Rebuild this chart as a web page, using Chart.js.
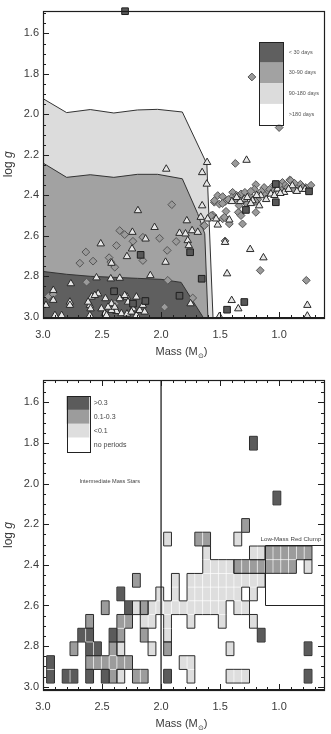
<!DOCTYPE html>
<html>
<head>
<meta charset="utf-8">
<title>Period and amplitude vs mass</title>
<script src="https://cdn.jsdelivr.net/npm/chart.js@4.4.1/dist/chart.umd.min.js"></script>
<style>
  html, body { margin: 0; padding: 0; background: #fff; }
  .panel { position: absolute; left: 0; width: 331px; height: 367px; }
  #periodPanel { top: 0; }
  #ampPanel { top: 367px; }
</style>
</head>
<body>
<div class="panel" id="periodPanel"><canvas id="periodChart"></canvas></div>
<div class="panel" id="ampPanel"><canvas id="ampChart"></canvas></div>
<script>
var FONT = '"Liberation Sans", Arial, Helvetica, sans-serif';
var INK = '#3a3a3a';

var massTicks = [3.0, 2.5, 2.0, 1.5, 1.0];
var loggTicks = [1.6, 1.8, 2.0, 2.2, 2.4, 2.6, 2.8, 3.0];

// ---- top panel: period zones (upper edge of each zone) ----
var periodLabels = ['< 30 days', '30-90 days', '90-180 days', '>180 days'];
var periodColors = ['#5f5f5f', '#a2a2a2', '#dcdcdc', '#ffffff'];

var zoneLongMass = [3.0, 2.8, 2.6, 2.4, 2.2, 2.03, 1.82, 1.612, 1.606, 1.56];
var zoneLongLogg = [1.922, 1.991, 1.976, 1.993, 1.978, 1.975, 1.988, 2.245, 2.34, 3.006];
var zoneMidMass = [3.0, 2.8, 2.6, 2.4, 2.2, 2.03, 1.82, 1.69, 1.63, 1.603];
var zoneMidLogg = [2.24, 2.311, 2.298, 2.311, 2.296, 2.296, 2.318, 2.49, 2.59, 3.006];
var zoneShortMass = [3.0, 2.8, 2.6, 2.4, 2.2, 2.0, 1.83, 1.64];
var zoneShortLogg = [2.776, 2.79, 2.8, 2.805, 2.81, 2.815, 2.83, 3.006];

// stars
var triMass = [1.956, 1.652, 1.61, 1.276, 1.613, 1.652, 1.782, 1.664, 1.844, 1.793, 1.737, 1.689, 1.774, 1.765,
  2.055, 2.131, 2.243, 2.511, 2.246, 2.289, 2.42, 1.962, 2.091, 2.196, 1.52, 1.605, 1.534, 1.422, 1.458, 1.245,
  1.133, 1.441, 1.402, 1.346, 1.506, 0.761, 0.761, 2.764, 2.547, 2.426, 1.75, 2.913, 2.975, 2.913, 2.772, 2.772,
  2.589, 2.533, 2.471, 2.603, 2.597, 2.505, 2.42, 2.35, 2.289, 2.28, 2.238, 2.378, 2.42, 2.477, 2.336, 2.289,
  2.251, 2.209, 2.181, 2.139, 2.603, 2.899, 2.842, 2.35, 2.462, 2.618, 2.561, 2.308, 2.209, 2.154, 2.392, 2.449,
  1.295, 1.225, 1.169, 1.155, 1.07, 1.014, 0.958, 0.888, 1.24, 0.82,
  1.40, 1.33, 1.27, 1.19, 1.11, 1.04, 0.99, 0.92, 0.85, 0.78, 1.36];
var triLogg = [2.27, 2.287, 2.237, 2.226, 2.344, 2.451, 2.525, 2.508, 2.587, 2.59, 2.574, 2.582, 2.623, 2.648,
  2.558, 2.615, 2.582, 2.639, 2.664, 2.702, 2.735, 2.73, 2.796, 2.475, 2.546, 2.516, 2.516, 2.521, 2.632, 2.667,
  2.708, 2.787, 2.919, 2.96, 2.998, 2.943, 2.996, 2.836, 2.807, 2.812, 2.935, 2.869, 2.943, 2.918, 2.927, 2.943,
  2.902, 2.886, 2.91, 2.943, 2.96, 2.96, 2.935, 2.91, 2.902, 2.927, 2.96, 2.973, 2.968, 2.984, 2.984, 2.986,
  2.976, 2.993, 2.968, 2.976, 2.993, 2.993, 2.993, 2.809, 2.993, 2.927, 2.894, 2.894, 2.902, 2.943, 2.952, 2.952,
  2.418, 2.426, 2.451, 2.401, 2.393, 2.368, 2.385, 2.352, 2.44, 2.37,
  2.43, 2.43, 2.41, 2.40, 2.42, 2.40, 2.39, 2.37, 2.38, 2.37, 2.41];

var diaMass = [1.231, 1.0, 1.371, 0.91, 1.909, 2.35, 2.308, 2.238, 2.154, 2.013, 2.378, 2.637, 2.576, 2.688,
  2.44, 2.392, 2.154, 1.872, 1.948, 1.943, 2.631, 1.732, 1.97, 2.955, 2.913, 1.16, 0.77, 1.639, 1.563, 1.549,
  1.45, 1.478, 1.31, 1.329, 1.197, 1.458, 2.426, 2.39,
  1.52, 1.549, 1.478, 1.506, 1.456, 1.394, 1.371, 1.323, 1.272, 1.197, 1.127, 1.042, 0.972, 0.901, 0.845, 0.775,
  1.346, 1.323, 1.464, 1.422, 1.576, 1.633, 1.10, 0.99, 1.25, 0.82, 1.18, 1.08, 0.95, 1.40, 1.29, 0.87, 1.21,
  1.48, 1.43, 1.36, 1.30, 1.24, 1.15, 1.12, 1.05, 1.00, 0.93, 0.88, 0.80, 0.73, 1.34, 1.20];
var diaLogg = [1.815, 2.065, 2.242, 2.324, 2.446, 2.574, 2.594, 2.627, 2.607, 2.612, 2.648, 2.68, 2.725, 2.735,
  2.708, 2.755, 2.722, 2.628, 2.672, 2.82, 2.829, 2.907, 2.952, 2.899, 2.889, 2.771, 2.82, 2.549, 2.497, 2.434,
  2.479, 2.516, 2.541, 2.492, 2.484, 2.625, 2.73, 2.935,
  2.401, 2.426, 2.406, 2.443, 2.43, 2.385, 2.418, 2.393, 2.443, 2.347, 2.361, 2.347, 2.336, 2.327, 2.361, 2.361,
  2.484, 2.5, 2.508, 2.541, 2.5, 2.549, 2.39, 2.37, 2.40, 2.345, 2.42, 2.37, 2.35, 2.41, 2.385, 2.34, 2.37,
  2.44, 2.42, 2.40, 2.42, 2.38, 2.38, 2.40, 2.38, 2.35, 2.36, 2.37, 2.36, 2.35, 2.45, 2.43];

var sqMass = [2.305, 2.173, 1.754, 1.656, 2.398, 2.133, 1.844, 1.441, 1.295, 0.747, 1.028, 1.281, 1.028, 2.238];
var sqLogg = [1.49, 2.694, 2.681, 2.812, 2.874, 2.922, 2.896, 2.965, 2.927, 2.38, 2.434, 2.472, 2.344, 2.935];

// ---- bottom panel: amplitude grid ----
var ampLabels = ['>0.3', '0.1-0.3', '<0.1', 'no periods'];
var ampColors = ['#5b5b5b', '#9c9c9c', '#dedede', '#ffffff'];
var ampBinMass = [2.936, 2.870, 2.804, 2.738, 2.672, 2.605, 2.539, 2.473, 2.407, 2.341, 2.275, 2.209, 2.143,
  2.077, 2.011, 1.945, 1.879, 1.813, 1.747, 1.681, 1.614, 1.548, 1.482, 1.416, 1.350, 1.284, 1.218, 1.152,
  1.085, 1.019, 0.953, 0.887, 0.821, 0.755, 0.689];
var ampBinLogg = [2.948, 2.881, 2.813, 2.746, 2.678, 2.611, 2.543, 2.476, 2.408, 2.341, 2.273, 2.206, 2.138,
  2.071, 2.003, 1.936, 1.868, 1.801];
// 3 = >0.3, 2 = 0.1-0.3, 1 = <0.1 ; rows start at log g 2.95 and go up
var ampGrid = [
  '3.33. 3.321 .22.. 3..1. ...11 1.... ...3.',
  '3.... 22222 2.... ..11. ..... ..... .....',
  '...2. 33.21 ...1. 2.... ...1. ..... ...3.',
  '....3 3..32 ..2.. 1.... ..... ..3.. .....',
  '..... 2...2 2.11. 1..1. ..1.. .1... .....',
  '..... ..2.. 31211 11111 111.1 1.... .....',
  '..... ....3 ....1 .1.11 11111 .1... .....',
  '..... ..... .2... .1.11 11111 111.. .....',
  '..... ..... ..... ..... 11112 22222 22.1.',
  '..... ..... ..... ..... 1.... .1122 2222.',
  '..... ..... ..... 1...2 2...1 ..... .....',
  '..... ..... ..... ..... ..... 2.... .....',
  '..... ..... ..... ..... ..... ..... .....',
  '..... ..... ..... ..... ..... ....3 .....',
  '..... ..... ..... ..... ..... ..... .....',
  '..... ..... ..... ..... ..... ..... .....',
  '..... ..... ..... ..... ..... ..... .....',
  '..... ..... ..... ..... ..... .3... .....'
];
var divideMass = 2.0;
var clumpMass = 1.12;
var clumpLogg = [2.3, 2.6];

var CELL_W = 0.0661, CELL_H = 0.0675;

function pts(xs, ys) {
  return xs.map(function (x, i) { return { x: x, y: ys[i] }; });
}

function makeScales(yMin, yMax, xHeight) {
  return {
    x: {
      type: 'linear', reverse: true, min: 0.62, max: 3.0,
      afterBuildTicks: function (s) { s.ticks = massTicks.map(function (v) { return { value: v }; }); },
      afterFit: function (s) { s.height = xHeight; },
      grid: { display: false, drawTicks: false },
      border: { display: false },
      ticks: { color: INK, padding: 10, maxRotation: 0, autoSkip: false,
        font: { family: FONT, size: 11 },
        callback: function (v) { return v.toFixed(1); } }
    },
    y: {
      type: 'linear', reverse: true, min: yMin, max: yMax,
      afterBuildTicks: function (s) { s.ticks = loggTicks.map(function (v) { return { value: v }; }); },
      afterFit: function (s) { s.width = 43; },
      grid: { display: false, drawTicks: false },
      border: { display: false },
      ticks: { color: INK, padding: 4, autoSkip: false,
        font: { family: FONT, size: 11 },
        callback: function (v) { return v.toFixed(1); } }
    }
  };
}

function line(ctx, x1, y1, x2, y2) {
  ctx.beginPath(); ctx.moveTo(x1, y1); ctx.lineTo(x2, y2); ctx.stroke();
}

function drawFrame(chart, sides, bottomWidth) {
  var ctx = chart.ctx, a = chart.chartArea, xs = chart.scales.x, ys = chart.scales.y;
  ctx.save();
  ctx.strokeStyle = '#1e1e1e';
  ctx.lineWidth = 1;
  for (var m = 7; m <= 30; m++) {
    var px = Math.round(xs.getPixelForValue(m / 10)) + 0.5;
    var len = (m % 5 === 0) ? 6 : 3;
    if (sides.bottom) line(ctx, px, a.bottom, px, a.bottom - len);
    if (sides.top) line(ctx, px, a.top, px, a.top + len);
  }
  for (var g = 30; g <= 60; g++) {
    var py = Math.round(ys.getPixelForValue(g / 20)) + 0.5;
    if (py < a.top || py > a.bottom) continue;
    var l2 = (g % 4 === 0) ? 6 : 3;
    if (sides.left) line(ctx, a.left, py, a.left + l2, py);
    if (sides.right) line(ctx, a.right, py, a.right - l2, py);
  }
  ctx.lineWidth = 1.2;
  ctx.strokeRect(Math.round(a.left) + 0.5, Math.round(a.top) + 0.5,
    Math.round(a.right - a.left), Math.round(a.bottom - a.top));
  ctx.lineWidth = bottomWidth;
  line(ctx, a.left, a.bottom, a.right + 1, a.bottom);
  ctx.restore();
}

function drawTitles(chart) {
  var ctx = chart.ctx, a = chart.chartArea;
  var big = '11px ' + FONT, small = '7px ' + FONT;
  ctx.save();
  ctx.fillStyle = INK;
  ctx.textBaseline = 'middle';
  ctx.textAlign = 'left';
  var t1 = 'Mass (M', t2 = '\u2299', t3 = ')';
  ctx.font = big;
  var w1 = ctx.measureText(t1).width, w3 = ctx.measureText(t3).width;
  ctx.font = small;
  var w2 = ctx.measureText(t2).width;
  var cx = (a.left + a.right) / 2 - 2, cy = a.bottom + 34;
  var x = cx - (w1 + w2 + w3) / 2;
  ctx.font = big; ctx.fillText(t1, x, cy);
  ctx.font = small; ctx.fillText(t2, x + w1, cy + 4);
  ctx.font = big; ctx.fillText(t3, x + w1 + w2, cy);

  ctx.translate(9, (a.top + a.bottom) / 2);
  ctx.rotate(-Math.PI / 2);
  var f = '12px ' + FONT, fi = 'italic 12px ' + FONT;
  ctx.font = f;
  var wl1 = ctx.measureText('log ').width;
  ctx.font = fi;
  var wl2 = ctx.measureText('g').width;
  var sx = -(wl1 + wl2) / 2;
  ctx.font = f; ctx.fillText('log ', sx, 0);
  ctx.font = fi; ctx.fillText('g', sx + wl1, 0);
  ctx.restore();
}

function drawKey(ctx, lx, ly, lw, lh, labels, colors, font, gap, color) {
  ctx.save();
  for (var i = 0; i < labels.length; i++) {
    ctx.fillStyle = colors[i];
    ctx.fillRect(lx, ly + i * lh, lw, lh);
    ctx.fillStyle = color;
    ctx.font = font;
    ctx.textBaseline = 'middle';
    ctx.textAlign = 'left';
    ctx.fillText(labels[i], lx + lw + gap, ly + (i + 0.5) * lh);
  }
  ctx.strokeStyle = '#222';
  ctx.lineWidth = 1;
  ctx.strokeRect(Math.round(lx) + 0.5, Math.round(ly) + 0.5, Math.round(lw), Math.round(lh * labels.length));
  ctx.restore();
}

var periodDecor = {
  id: 'periodDecor',
  afterDraw: function (chart) {
    var a = chart.chartArea;
    drawFrame(chart, { left: true, bottom: true }, 2);
    drawKey(chart.ctx, a.left + 216.3, a.top + 31.4, 24, 20.65, periodLabels, periodColors,
      '5.5px ' + FONT, 5.5, '#555');
    drawTitles(chart);
  }
};

function cellClass(r, k) {
  if (r < 0 || r >= ampGrid.length) return 0;
  var row = ampGrid[r].replace(/ /g, '');
  if (k < 0 || k >= row.length) return 0;
  var ch = row.charAt(k);
  return ch === '.' ? 0 : parseInt(ch, 10);
}

var ampDecor = {
  id: 'ampDecor',
  beforeDatasetsDraw: function (chart) {
    var ctx = chart.ctx, xs = chart.scales.x, ys = chart.scales.y;
    var rects = [];
    for (var r = 0; r < ampGrid.length; r++) {
      for (var k = 0; k < ampBinMass.length; k++) {
        var c = cellClass(r, k);
        if (!c) continue;
        var x1 = xs.getPixelForValue(ampBinMass[k] + CELL_W / 2);
        var x2 = xs.getPixelForValue(ampBinMass[k] - CELL_W / 2);
        var y1 = ys.getPixelForValue(ampBinLogg[r] - CELL_H / 2);
        var y2 = ys.getPixelForValue(ampBinLogg[r] + CELL_H / 2);
        rects.push({ r: r, k: k, c: c, x1: x1, x2: x2, y1: y1, y2: y2 });
      }
    }
    ctx.save();
    rects.forEach(function (q) {
      ctx.fillStyle = ampColors[3 - q.c];
      ctx.fillRect(q.x1, q.y1, q.x2 - q.x1, q.y2 - q.y1);
    });
    ctx.strokeStyle = 'rgba(255,255,255,0.45)';
    ctx.lineWidth = 0.8;
    rects.forEach(function (q) {
      ctx.strokeRect(q.x1, q.y1, q.x2 - q.x1, q.y2 - q.y1);
    });
    ctx.strokeStyle = '#2a2a2a';
    ctx.lineWidth = 1;
    rects.forEach(function (q) {
      if (cellClass(q.r, q.k - 1) !== q.c) line(ctx, q.x1, q.y1, q.x1, q.y2);
      if (cellClass(q.r, q.k + 1) !== q.c) line(ctx, q.x2, q.y1, q.x2, q.y2);
      if (cellClass(q.r + 1, q.k) !== q.c) line(ctx, q.x1, q.y1, q.x2, q.y1);
      if (cellClass(q.r - 1, q.k) !== q.c) line(ctx, q.x1, q.y2, q.x2, q.y2);
    });
    ctx.restore();
  },
  afterDraw: function (chart) {
    var ctx = chart.ctx, a = chart.chartArea, xs = chart.scales.x, ys = chart.scales.y;
    ctx.save();
    ctx.strokeStyle = '#222';
    ctx.lineWidth = 1.3;
    var dx = xs.getPixelForValue(divideMass);
    line(ctx, dx, a.top, dx, a.bottom);
    ctx.lineWidth = 1;
    var cx = Math.round(xs.getPixelForValue(clumpMass)) + 0.5;
    var cy1 = Math.round(ys.getPixelForValue(clumpLogg[0])) + 0.5;
    var cy2 = Math.round(ys.getPixelForValue(clumpLogg[1])) + 0.5;
    line(ctx, cx, cy1, cx, cy2);
    line(ctx, cx, cy1, a.right, cy1);
    line(ctx, cx, cy2, a.right, cy2);
    ctx.fillStyle = '#444';
    ctx.textAlign = 'center';
    ctx.textBaseline = 'middle';
    ctx.font = '5.6px ' + FONT;
    ctx.fillText('Intermediate Mass Stars', xs.getPixelForValue(2.435), ys.getPixelForValue(1.99));
    ctx.font = '6.2px ' + FONT;
    ctx.fillText('Low-Mass Red Clump', xs.getPixelForValue(0.9), ys.getPixelForValue(2.272));
    ctx.restore();
    drawFrame(chart, { left: true, right: true, top: true, bottom: true }, 2.2);
    drawKey(ctx, a.left + 23.7, a.top + 16, 22.6, 13.9, ampLabels, ampColors, '7px ' + FONT, 4.5, '#444');
    drawTitles(chart);
  }
};

function zone(mass, logg, color, order) {
  return {
    type: 'line', data: pts(mass, logg), order: order,
    backgroundColor: color, borderColor: '#333', borderWidth: 1,
    pointRadius: 0, tension: 0, fill: 'start'
  };
}

new Chart(document.getElementById('periodChart'), {
  type: 'scatter',
  data: {
    datasets: [
      { data: pts(sqMass, sqLogg), order: 0, pointStyle: 'rect', pointRadius: 4.7,
        backgroundColor: '#585858', borderColor: '#1e1e1e', borderWidth: 1, clip: false },
      { data: pts(triMass, triLogg), order: 1, pointStyle: 'triangle', pointRadius: 4.3,
        backgroundColor: '#e6e6e6', borderColor: '#2a2a2a', borderWidth: 1 },
      { data: pts(diaMass, diaLogg), order: 2, pointStyle: 'rectRot', pointRadius: 3.9,
        backgroundColor: '#9a9a9a', borderColor: '#555', borderWidth: 1 },
      zone(zoneShortMass, zoneShortLogg, periodColors[0], 3),
      zone(zoneMidMass, zoneMidLogg, periodColors[1], 4),
      zone(zoneLongMass, zoneLongLogg, periodColors[2], 5)
    ]
  },
  options: {
    responsive: true, maintainAspectRatio: false, animation: false, devicePixelRatio: 1,
    layout: { padding: { top: 9.3, right: 7, left: 0, bottom: 0 } },
    plugins: { legend: { display: false }, tooltip: { enabled: false } },
    scales: makeScales(1.487, 3.006, 49)
  },
  plugins: [periodDecor]
});

new Chart(document.getElementById('ampChart'), {
  type: 'scatter',
  data: { datasets: [] },
  options: {
    responsive: true, maintainAspectRatio: false, animation: false, devicePixelRatio: 1,
    layout: { padding: { top: 13, right: 7, left: 0, bottom: 0 } },
    plugins: { legend: { display: false }, tooltip: { enabled: false } },
    scales: makeScales(1.49, 3.016, 44)
  },
  plugins: [ampDecor]
});
</script>
</body>
</html>
